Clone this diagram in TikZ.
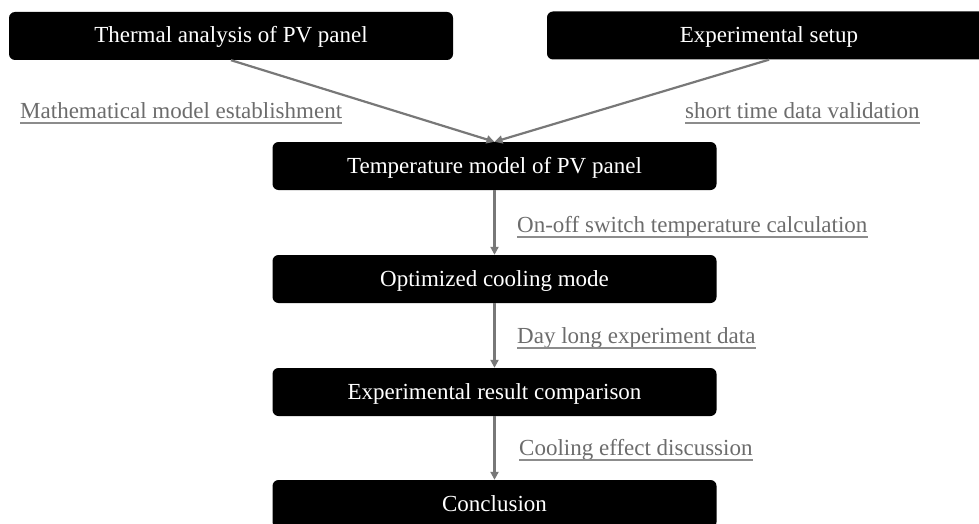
\documentclass[tikz,border=0pt]{standalone}
\usepackage{fontspec}
\setmainfont{Liberation Serif}
\usetikzlibrary{arrows.meta}
\definecolor{linkgray}{RGB}{120,120,120}
\definecolor{notegray}{RGB}{108,108,108}
\definecolor{rulegray}{RGB}{140,140,140}
\tikzset{
  flowbox/.style={fill=black, text=white, rounded corners=6pt,
    minimum width=444pt, minimum height=48pt, inner sep=0pt,
    text height=16pt, text depth=2pt,
    font=\fontsize{23}{27}\selectfont},
  note/.style={anchor=base west, inner sep=0pt, text=notegray,
    font=\fontsize{23}{27}\selectfont},
  uline/.style={draw=rulegray, line width=1.6pt},
  conn/.style={draw=linkgray, line width=2.2pt,
    -{Triangle[length=8pt,width=8pt]}}
}
\begin{document}
\begin{tikzpicture}[x=1pt,y=-1pt]
  \useasboundingbox (0,0) rectangle (979,524);

  % process boxes
  \node[flowbox] (thermal) at (231,36)    {Thermal analysis of PV panel};
  \node[flowbox] (setup)   at (769,35.5)  {Experimental setup};
  \node[flowbox] (tmodel)  at (494.5,166) {Temperature model of PV panel};
  \node[flowbox] (cooling) at (494.5,279) {Optimized cooling mode};
  \node[flowbox] (compare) at (494.5,392) {Experimental result comparison};
  \node[flowbox] (concl)   at (494.5,504) {Conclusion};

  % connectors
  \draw[conn] (thermal.south) -- (tmodel.north);
  \draw[conn] (setup.south)   -- (tmodel.north);
  \draw[conn] (tmodel.south)  -- (cooling.north);
  \draw[conn] (cooling.south) -- (compare.north);
  \draw[conn] (compare.south) -- (concl.north);

  % underlined step descriptions
  \node[note] (n1) at (20,118)  {Mathematical model establishment};
  \node[note] (n2) at (685,118) {short time data validation};
  \node[note] (n3) at (517,232) {On-off switch temperature calculation};
  \node[note] (n4) at (517,343) {Day long experiment data};
  \node[note] (n5) at (519,455) {Cooling effect discussion};
  \foreach \n in {n1,n2,n3,n4,n5}
    \draw[uline] ([yshift=-5pt]\n.base west) -- ([yshift=-5pt]\n.base east);
\end{tikzpicture}
\end{document}
